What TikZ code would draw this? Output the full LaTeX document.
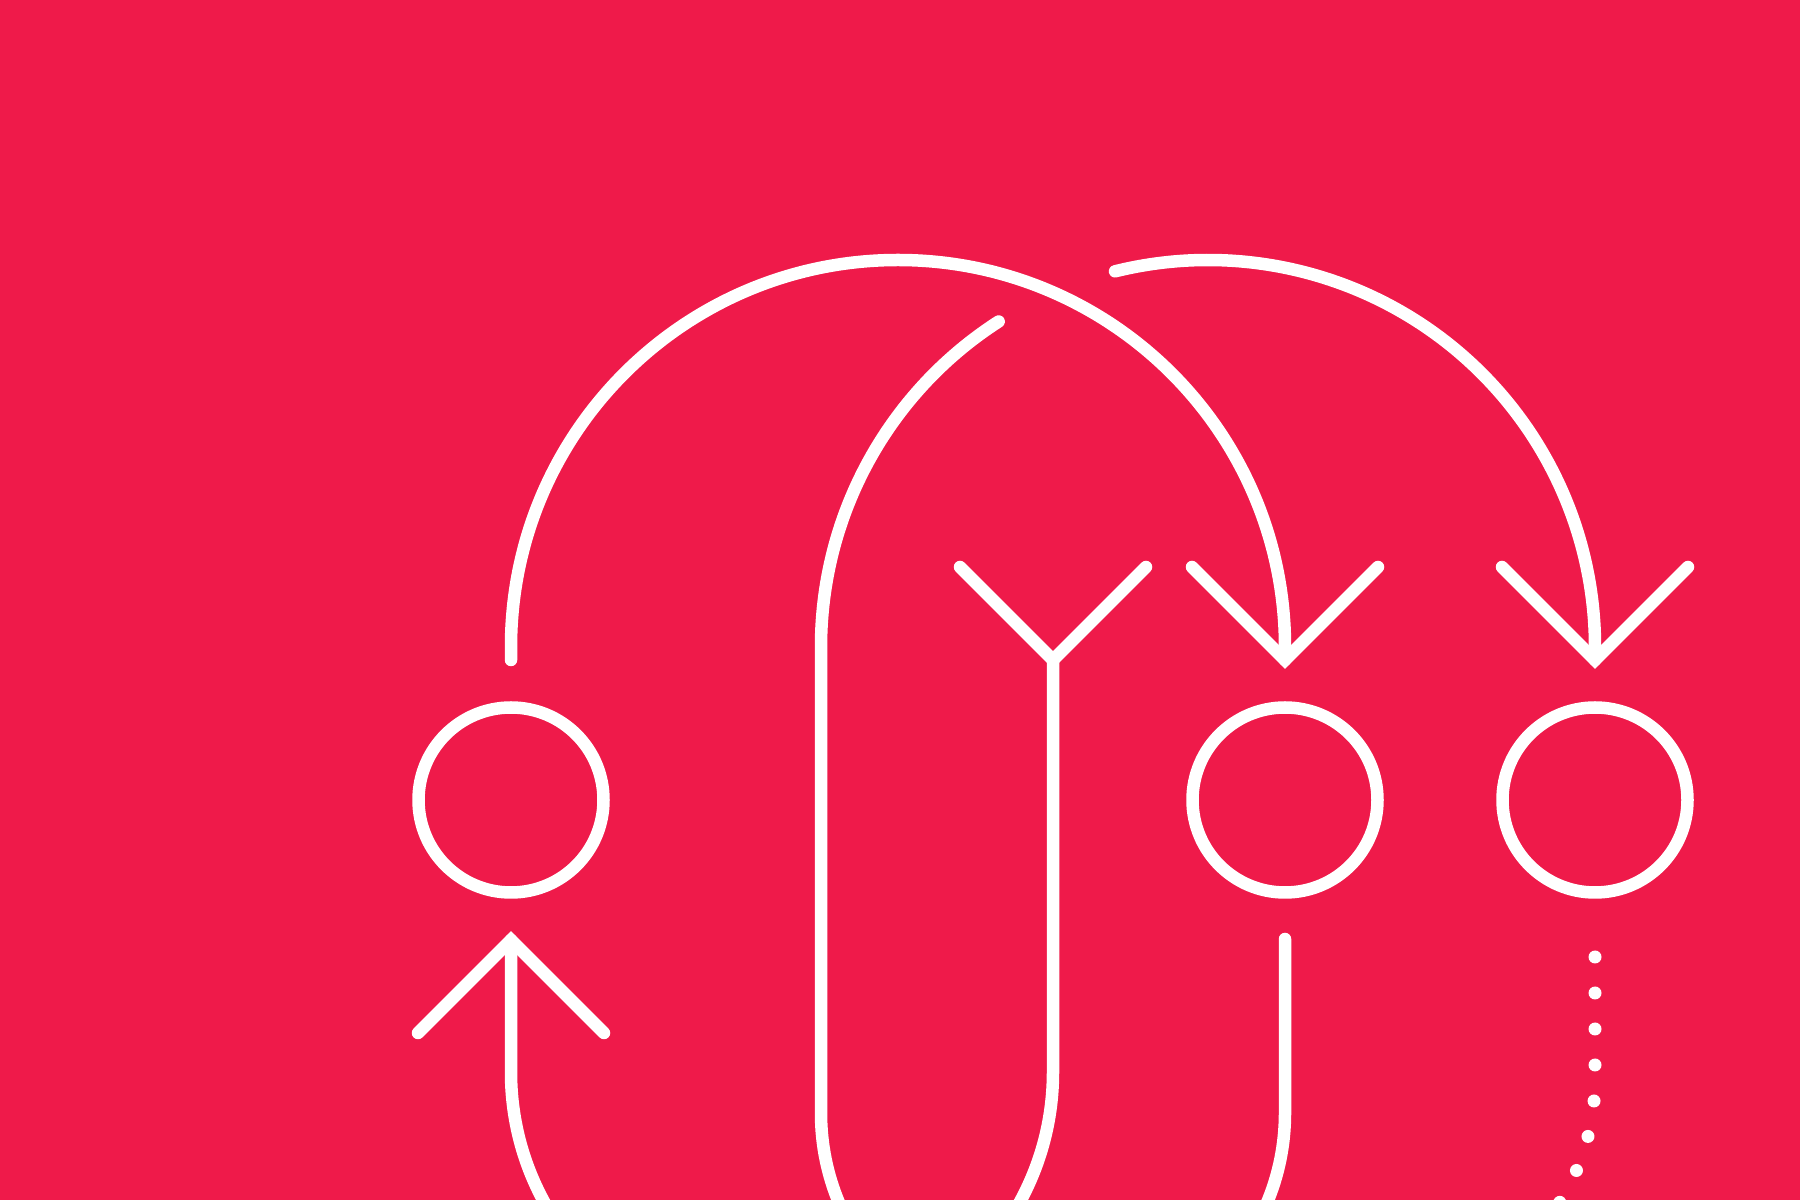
\documentclass[tikz,border=0pt]{standalone}
\usepackage{xcolor}
\usepackage{tikz}
\usetikzlibrary{calc}
\definecolor{bg}{HTML}{EF1A4A}
\definecolor{ink}{HTML}{FFFFFF}
\tikzset{
  strand/.style={line width=12.5pt, draw=ink, line cap=round, line join=round},
  vee/.style={line width=12.5pt, draw=ink, line cap=round, line join=miter},
  ring/.style={circle, draw=ink, line width=12.5pt, minimum size=185pt, inner sep=0pt},
  dots/.style={line width=13pt, draw=ink, line cap=round, dash pattern=on 0pt off 36pt}
}

\begin{document}
\begin{tikzpicture}[x=1pt,y=1pt]
  \useasboundingbox (0,0) rectangle (1800,1200);
  \fill[bg] (0,0) rectangle (1800,1200);
  \clip (0,0) rectangle (1800,1200);

  % heads
  \node[ring] (headL) at (511,400) {};
  \node[ring] (headM) at (1285,400) {};
  \node[ring] (headR) at (1595,400) {};

  \coordinate (hubA) at (898,553);
  \coordinate (hubB) at (1208,553);
  \coordinate (tipUp) at (511,260);
  \coordinate (tipY) at (1053,540);
  \coordinate (tipM) at (1285,540);
  \coordinate (tipR) at (1595,540);

  % arcs over the top
  \draw[strand] (511,540) -- (511,553) arc[start angle=180, end angle=0, radius=387] -- (tipM);
  \draw[strand] ($(hubB)+(103.9:387)$) arc[start angle=103.9, end angle=0, radius=387] -- (tipR);
  \draw[strand] ($(hubB)+(122.75:387)$) arc[start angle=122.75, end angle=180, radius=387]
    -- (821,87) arc[start angle=180, end angle=360, radius=232] -- (1285,261);
  \draw[strand] (tipY) -- (1053,128) arc[start angle=0, end angle=-180, radius=271] -- (tipUp);

  % arrow heads
  \foreach \t in {tipY,tipM,tipR}
    \draw[vee] ($(\t)+(-93,93)$) -- (\t) -- ($(\t)+(93,93)$);
  \draw[vee] ($(tipUp)+(-93,-93)$) -- (tipUp) -- ($(tipUp)+(93,-93)$);

  % dotted trail
  \draw[dots] (1595,243) -- (1595,120) arc[start angle=0, end angle=-60, radius=230];
\end{tikzpicture}
\end{document}
